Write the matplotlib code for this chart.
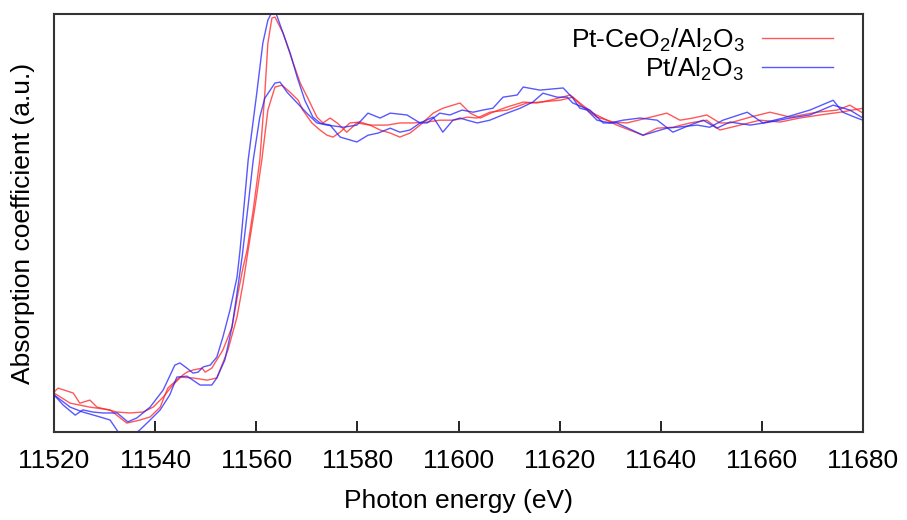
import matplotlib
matplotlib.use("Agg")
from matplotlib import pyplot as plt

# XANES Pt L3 edge, normalized absorption (a.u.)

# Pt-CeO2/Al2O3, higher white line
e_ce_a = [11520.0, 11520.8, 11523.8, 11525.1, 11527.1, 11528.5, 11532.5, 11535.0, 11537.6, 11539.6,
          11541.6, 11543.5, 11545.5, 11546.3, 11547.5, 11549.3, 11549.9, 11551.2, 11553.4, 11555.2,
          11556.4, 11557.4, 11558.2, 11559.4, 11560.7, 11561.7, 11562.3, 11563.1, 11563.7, 11565.3,
          11567.1, 11568.7, 11570.2, 11572.0, 11573.2, 11574.6, 11576.0, 11577.9, 11579.9, 11582.5,
          11585.9, 11588.4, 11591.0, 11593.8, 11596.3, 11598.9, 11600.3, 11601.7, 11603.7, 11606.2,
          11609.6, 11613.5, 11616.1, 11620.1, 11622.6, 11624.6, 11627.4, 11630.6, 11633.3, 11637.3,
          11641.2, 11643.8, 11646.4, 11649.1, 11651.7, 11653.7, 11657.7, 11661.6, 11665.6, 11670.9,
          11674.9, 11677.4, 11680.0]
mu_ce_a = [0.130, 0.143, 0.127, 0.094, 0.104, 0.081, 0.065, 0.062, 0.065, 0.081,
           0.114, 0.153, 0.186, 0.195, 0.202, 0.208, 0.195, 0.208, 0.267, 0.342,
           0.453, 0.537, 0.593, 0.723, 0.886, 1.104, 1.267, 1.349, 1.352, 1.300,
           1.212, 1.137, 1.088, 1.026, 1.007, 1.023, 1.007, 0.977, 1.007, 1.000,
           1.000, 1.007, 1.007, 1.010, 1.016, 1.016, 1.020, 1.026, 1.023, 1.042,
           1.049, 1.072, 1.075, 1.081, 1.091, 1.059, 1.026, 1.010, 1.007, 1.023,
           1.039, 1.016, 1.023, 1.033, 1.007, 1.007, 1.026, 1.042, 1.026, 1.042,
           1.049, 1.065, 1.039]

# Pt-CeO2/Al2O3, lower white line
e_ce_b = [11520.0, 11523.2, 11527.1, 11531.1, 11534.4, 11537.0, 11539.0, 11541.0, 11542.5, 11544.9,
          11547.5, 11550.3, 11552.2, 11554.4, 11556.2, 11557.4, 11558.4, 11559.8, 11561.1, 11562.3,
          11563.7, 11565.1, 11566.7, 11568.3, 11569.2, 11571.0, 11572.6, 11574.0, 11575.2, 11576.6,
          11578.5, 11580.5, 11582.5, 11584.5, 11586.5, 11588.4, 11590.4, 11592.4, 11595.0, 11596.9,
          11598.9, 11600.3, 11602.3, 11604.3, 11606.8, 11609.6, 11612.8, 11615.5, 11618.1, 11622.1,
          11624.0, 11626.6, 11631.3, 11636.5, 11639.3, 11642.4, 11645.8, 11649.1, 11651.7, 11655.7,
          11659.6, 11663.6, 11667.5, 11671.5, 11675.5, 11680.0]
mu_ce_b = [0.127, 0.094, 0.081, 0.072, 0.029, 0.039, 0.049, 0.081, 0.143, 0.179,
           0.176, 0.169, 0.176, 0.267, 0.375, 0.485, 0.593, 0.739, 0.886, 1.049,
           1.124, 1.130, 1.107, 1.081, 1.049, 1.007, 0.984, 0.967, 0.961, 0.977,
           1.007, 1.010, 1.000, 0.984, 0.974, 0.961, 0.974, 1.000, 1.039, 1.055,
           1.065, 1.072, 1.039, 1.023, 1.042, 1.059, 1.075, 1.072, 1.081, 1.098,
           1.072, 1.039, 1.000, 0.967, 0.990, 0.993, 1.007, 1.016, 0.984, 1.000,
           1.016, 1.010, 1.023, 1.033, 1.042, 1.055]

# Pt/Al2O3, higher white line
e_al_a = [11520.0, 11521.8, 11524.2, 11525.7, 11527.7, 11529.7, 11532.5, 11534.6, 11536.4, 11539.0,
          11541.6, 11543.9, 11544.9, 11546.3, 11547.5, 11548.5, 11549.5, 11550.9, 11552.2, 11553.4,
          11554.8, 11556.2, 11556.8, 11557.6, 11558.4, 11560.1, 11561.3, 11562.3, 11563.1, 11563.9,
          11565.1, 11566.7, 11568.1, 11569.6, 11571.2, 11572.6, 11574.6, 11576.6, 11579.9, 11582.1,
          11584.1, 11586.5, 11588.4, 11590.4, 11592.4, 11595.0, 11596.9, 11598.9, 11600.3, 11601.7,
          11603.7, 11606.2, 11609.6, 11612.2, 11614.7, 11616.7, 11619.5, 11621.5, 11622.6, 11626.0,
          11628.6, 11631.3, 11636.5, 11641.2, 11643.2, 11647.2, 11649.7, 11652.3, 11657.1, 11660.2,
          11664.2, 11669.5, 11674.1, 11676.0, 11678.8, 11680.0]
mu_al_a = [0.121, 0.088, 0.055, 0.072, 0.065, 0.062, 0.062, 0.033, 0.046, 0.081,
           0.137, 0.218, 0.225, 0.208, 0.192, 0.195, 0.212, 0.218, 0.244, 0.309,
           0.397, 0.505, 0.593, 0.739, 0.886, 1.104, 1.267, 1.342, 1.368, 1.365,
           1.309, 1.235, 1.156, 1.081, 1.026, 1.007, 1.000, 0.961, 0.945, 0.967,
           0.974, 0.990, 0.977, 0.984, 1.007, 1.026, 0.977, 1.016, 1.023, 1.016,
           1.007, 1.016, 1.039, 1.055, 1.075, 1.104, 1.091, 1.091, 1.072, 1.049,
           1.007, 1.007, 0.967, 0.990, 0.993, 1.000, 0.993, 1.016, 1.042, 1.007,
           1.023, 1.049, 1.081, 1.042, 1.023, 1.016]

# Pt/Al2O3, lower white line
e_al_b = [11520.0, 11523.2, 11525.7, 11529.1, 11531.1, 11533.1, 11535.6, 11537.0, 11539.0, 11541.0,
          11542.9, 11544.3, 11546.3, 11548.9, 11551.2, 11552.2, 11553.8, 11555.2, 11556.2, 11557.2,
          11558.4, 11559.4, 11560.7, 11561.7, 11563.7, 11564.7, 11566.1, 11568.1, 11570.0, 11572.0,
          11574.0, 11577.2, 11579.9, 11582.1, 11584.5, 11586.5, 11589.8, 11592.4, 11593.8, 11596.3,
          11598.3, 11600.7, 11602.9, 11604.8, 11606.8, 11608.8, 11611.6, 11612.8, 11616.1, 11620.7,
          11622.6, 11624.0, 11625.4, 11627.4, 11630.0, 11632.5, 11635.9, 11639.3, 11642.4, 11645.8,
          11648.4, 11651.1, 11653.7, 11657.7, 11661.6, 11665.6, 11669.5, 11674.1, 11677.4, 11680.0]
mu_al_b = [0.121, 0.081, 0.065, 0.049, 0.039, -0.010, -0.010, 0.007, 0.039, 0.072,
           0.121, 0.179, 0.182, 0.153, 0.153, 0.176, 0.235, 0.342, 0.453, 0.570,
           0.739, 0.886, 1.026, 1.088, 1.137, 1.140, 1.107, 1.072, 1.039, 1.007,
           1.000, 0.993, 1.000, 1.039, 1.023, 1.039, 1.033, 1.007, 1.007, 1.039,
           1.033, 1.049, 1.042, 1.049, 1.055, 1.091, 1.098, 1.124, 1.114, 1.121,
           1.088, 1.055, 1.049, 1.016, 1.007, 1.016, 1.023, 1.016, 0.977, 1.000,
           1.016, 0.990, 1.010, 1.000, 1.010, 1.023, 1.033, 1.065, 1.049, 1.023]

x_ticks = [11520, 11540, 11560, 11580, 11600, 11620, 11640, 11660, 11680]


def plot_xanes():
    plt.rcParams["font.family"] = ["Liberation Sans", "DejaVu Sans"]
    plt.rcParams["mathtext.fontset"] = "custom"
    plt.rcParams["mathtext.rm"] = "Liberation Sans"

    fig = plt.figure(figsize=(9.07, 5.20), dpi=100)
    ax = fig.add_axes([54 / 907, 88 / 520, 809 / 907, 418 / 520])

    red = "#ff2020"
    blue = "#2020ff"
    ax.plot(e_ce_a, mu_ce_a, color=red, lw=1.0, alpha=0.75, label="Pt-CeO$_2$/Al$_2$O$_3$")
    ax.plot(e_ce_b, mu_ce_b, color=red, lw=1.0, alpha=0.75)
    ax.plot(e_al_a, mu_al_a, color=blue, lw=1.0, alpha=0.75, label="Pt/Al$_2$O$_3$")
    ax.plot(e_al_b, mu_al_b, color=blue, lw=1.0, alpha=0.75)

    ax.set_xlim(11520, 11680)
    ax.set_ylim(0, 1.362)
    ax.set_xticks(x_ticks)
    ax.set_yticks([])
    ax.tick_params(axis="x", direction="in", length=8, width=1.2, pad=12, labelsize=19)

    for sp in ax.spines.values():
        sp.set_linewidth(1.5)
        sp.set_color("#333333")

    ax.set_xlabel("Photon energy (eV)", fontsize=19, labelpad=12)
    ax.set_ylabel("Absorption coefficient (a.u.)", fontsize=19, labelpad=14)

    ax.legend(loc="upper right", bbox_to_anchor=(0.963, 0.97), frameon=False,
              markerfirst=False, fontsize=19, handlelength=2.7, handletextpad=0.65,
              labelspacing=0.05, borderpad=0, borderaxespad=0)

    fig.savefig("out.png", dpi=100)


plot_xanes()
